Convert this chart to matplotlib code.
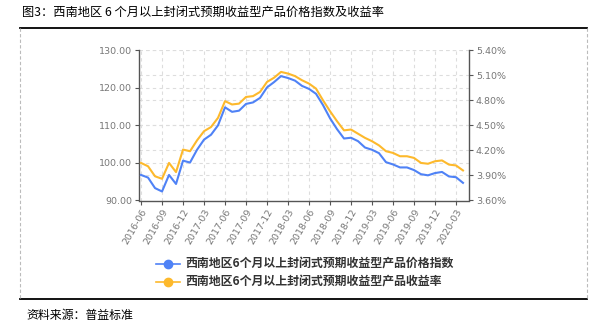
import pandas as pd
import matplotlib
matplotlib.use("Agg")
import matplotlib.pyplot as plt
from matplotlib.lines import Line2D
from matplotlib.ticker import FuncFormatter

plt.rcParams["font.family"] = ["DejaVu Sans"]
CJK = ["Noto Sans CJK SC", "DejaVu Sans"]

# ── data ─────────────────────────────────────────────────────────────────────
months = list(pd.period_range("2016-06", "2020-04", freq="M").strftime("%Y-%m"))

price_index = [
    96.8, 96.1, 93.3, 92.4, 96.8, 94.4, 100.6, 100.1, 103.5, 106.2,
    107.5, 110.0, 114.8, 113.6, 113.9, 115.7, 116.1, 117.3, 120.1, 121.5,
    123.1, 122.6, 121.9, 120.5, 119.7, 118.4, 115.4, 111.9, 109.0, 106.5,
    106.7, 105.8, 104.1, 103.5, 102.6, 100.2, 99.6, 98.8, 98.8, 98.1,
    97.0, 96.7, 97.3, 97.6, 96.4, 96.2, 94.7,
]
yield_rate = [
    4.05, 4.01, 3.89, 3.86, 4.05, 3.94, 4.21, 4.19, 4.32, 4.43,
    4.48, 4.59, 4.79, 4.75, 4.76, 4.84, 4.85, 4.90, 5.02, 5.07,
    5.14, 5.12, 5.09, 5.04, 5.00, 4.94, 4.80, 4.67, 4.55, 4.44,
    4.45, 4.40, 4.35, 4.31, 4.26, 4.19, 4.17, 4.13, 4.13, 4.11,
    4.05, 4.04, 4.07, 4.08, 4.03, 4.02, 3.96,
]
left_ticks = [90, 100, 110, 120, 130]
right_ticks = [3.6, 3.9, 4.2, 4.5, 4.8, 5.1, 5.4]

label_index = "西南地区6个月以上封闭式预期收益型产品价格指数"
label_rate = "西南地区6个月以上封闭式预期收益型产品收益率"

BLUE = "#4f82f6"
GOLD = "#fdb92c"
TICK_GREY = "#777777"
AXIS_GREY = "#555555"
GRID_GREY = "#dddddd"

# ── figure ───────────────────────────────────────────────────────────────────
W, H = 606, 332
fig = plt.figure(figsize=(W / 100, H / 100), dpi=100)
ax = fig.add_axes([139 / W, 1 - 200.5 / H, (469 - 139) / W, 150.3 / H])
ax2 = ax.twinx()

x = list(range(len(months)))
ax.set_xlim(-0.29, 46.86)
ax.set_ylim(90, 130)
ax2.set_ylim(3.6, 5.4)

# grid: vertical lines at every tick, horizontal for both axes' ticks
for xi in x[::3]:
    ax.axvline(xi, color=GRID_GREY, lw=0.8, ls=(0, (3, 3)), zorder=0)
for v in left_ticks[1:]:
    ax.axhline(v, color=GRID_GREY, lw=0.8, ls=(0, (3, 3)), zorder=0)
for p in right_ticks[1:]:
    ax.axhline(90 + (p - 3.6) / 1.8 * 40, color=GRID_GREY, lw=0.8,
               ls=(0, (3, 3)), zorder=0)

ax.plot(x, price_index, color=BLUE, lw=1.5, zorder=3)
ax2.plot(x, yield_rate, color=GOLD, lw=1.5, zorder=3)

ax.set_xticks(x[::3])
ax.set_xticklabels(months[::3], rotation=60, ha="right", rotation_mode="anchor")
ax.set_yticks(left_ticks)
ax.yaxis.set_major_formatter(FuncFormatter(lambda v, _: f"{v:.2f}"))
ax2.set_yticks(right_ticks)
ax2.yaxis.set_major_formatter(FuncFormatter(lambda v, _: f"{v:.2f}%"))

for a in (ax, ax2):
    a.tick_params(labelsize=6.8, colors=AXIS_GREY, labelcolor=TICK_GREY,
                  length=3, width=0.8, pad=2)
    a.spines["top"].set_visible(False)
    for side in ("left", "right", "bottom"):
        a.spines[side].set_color(AXIS_GREY)
        a.spines[side].set_linewidth(1.0)
ax.spines["right"].set_visible(False)
ax2.spines["left"].set_visible(False)
ax2.spines["bottom"].set_visible(False)

# legend below the plot
handles = [
    Line2D([], [], color=BLUE, lw=1.2, marker="o", markersize=6),
    Line2D([], [], color=GOLD, lw=1.2, marker="o", markersize=6),
]
fig.legend(handles, [label_index, label_rate], loc="upper left",
           bbox_to_anchor=(150 / W, 1 - 252 / H), frameon=False,
           handlelength=2.0, handletextpad=0.45, labelspacing=0.4,
           prop={"family": CJK, "size": 8.6, "weight": "bold"},
           labelcolor="#333333", borderpad=0)

# frame: title, rules, dashed sides, source note
fig.text(22 / W, 1 - 12 / H, "图3：西南地区 6 个月以上封闭式预期收益型产品价格指数及收益率",
         family=CJK, fontsize=8.8, va="center", ha="left", color="black")
fig.add_artist(Line2D([20 / W, 587 / W], [1 - 28 / H] * 2,
                      transform=fig.transFigure, color="black", lw=1.3))
fig.add_artist(Line2D([20 / W, 587 / W], [1 - 299 / H] * 2,
                      transform=fig.transFigure, color="black", lw=1.3))
for xs in (20, 587):
    fig.add_artist(Line2D([xs / W] * 2, [1 - 28 / H, 1 - 299 / H],
                          transform=fig.transFigure, color="#bbbbbb",
                          lw=0.8, ls=(0, (3, 2))))
fig.text(26 / W, 1 - 315 / H, "资料来源：普益标准", family=CJK, fontsize=8.6,
         va="center", ha="left", color="black")

fig.savefig("out.png", dpi=100)
